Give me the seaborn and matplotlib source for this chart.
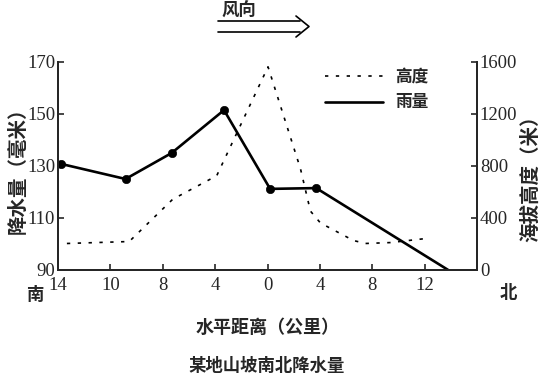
import matplotlib
matplotlib.use("Agg")
import matplotlib.pyplot as plt
from matplotlib.lines import Line2D
import seaborn as sns

# tick labels along the bottom (evenly spaced, as printed)
x_tick_labels = ['14', '10', '8', '4', '0', '4', '8', '12']

# rainfall (mm), position in tick-slot units
rain_pos = [0.06, 1.29, 2.17, 3.17, 4.05, 4.93, 7.45]
rain_mm = [130.8, 125.0, 135.0, 151.5, 121.2, 121.5, 90.0]

# elevation (m)
height_pos = [0.17, 1.36, 2.19, 3.03, 4.01, 4.63, 4.82, 5.01, 5.64, 5.87, 6.35, 7.02]
height_m = [204, 219, 544, 725, 1563, 778, 453, 362, 227, 204, 211, 242]

left_ticks = [90, 110, 130, 150, 170]
right_ticks = [0, 400, 800, 1200, 1600]

sns.set_style("ticks")
plt.rcParams['font.family'] = ['Liberation Serif', 'Noto Sans CJK SC']
plt.rcParams['axes.unicode_minus'] = False

W, H = 554, 378
fig = plt.figure(figsize=(W / 100, H / 100), dpi=100)
ax = fig.add_axes([58 / W, 108 / H, (477 - 58) / W, 208 / H])
ax2 = ax.twinx()

dash = (0, (2, 4.5))
sns.lineplot(x=rain_pos, y=rain_mm, ax=ax, sort=False, color='black', lw=1.9)
sns.scatterplot(x=rain_pos[:-1], y=rain_mm[:-1], ax=ax, color='black', s=36,
                edgecolor='black', zorder=5)
sns.lineplot(x=height_pos, y=height_m, ax=ax2, sort=False, color='black', lw=1.2,
             linestyle=dash)

ax.set_xlim(0, 8)
ax.set_ylim(90, 170)
ax2.set_ylim(0, 1600)
ax.set_xticks(range(len(x_tick_labels)))
ax.set_xticklabels(x_tick_labels)
ax.set_yticks(left_ticks)
ax2.set_yticks(right_ticks)

for a in (ax, ax2):
    a.spines['top'].set_visible(False)
    for s in a.spines.values():
        s.set_linewidth(1.4)
    a.tick_params(direction='in', length=4, width=1.2, labelsize=13.5, pad=2)
ax.tick_params(axis='x', pad=5)
ax.set_xlabel('')
ax.set_ylabel('')
ax2.set_ylabel('')

handles = [Line2D([], [], color='black', lw=1.2, linestyle=dash),
           Line2D([], [], color='black', lw=1.9)]
leg = ax.legend(handles, ['高度', '雨量'], loc='upper left',
                bbox_to_anchor=(325 / W, 1 - 68 / H), bbox_transform=fig.transFigure,
                frameon=False, handlelength=3.5, handletextpad=0.7,
                labelspacing=0.45, borderpad=0, borderaxespad=0,
                prop={'family': 'Noto Sans CJK SC', 'weight': 'bold', 'size': 12})

cjk = dict(family='Noto Sans CJK SC', weight='bold')
fig.text(18 / W, 1 - 166 / H, '降水量（毫米）', rotation=90, ha='center', va='center',
         fontsize=14, **cjk)
fig.text(531 / W, 1 - 174 / H, '海拔高度（米）', rotation=90, ha='center', va='center',
         fontsize=14, **cjk)
fig.text(268 / W, 1 - 327 / H, '水平距离（公里）', ha='center', va='center', fontsize=13, **cjk)
fig.text(267 / W, 1 - 366 / H, '某地山坡南北降水量', ha='center', va='center', fontsize=12.5, **cjk)
fig.text(35 / W, 1 - 295 / H, '南', ha='center', va='center', fontsize=12.5, **cjk)
fig.text(508 / W, 1 - 293 / H, '北', ha='center', va='center', fontsize=12.5, **cjk)
fig.text(239 / W, 1 - 11 / H, '风向', ha='center', va='center', fontsize=12.5, **cjk)

# hollow wind arrow at top
def px_line(xs, ys):
    fig.add_artist(Line2D([x / W for x in xs], [1 - y / H for y in ys],
                          color='black', lw=1.2, transform=fig.transFigure))

px_line([218, 300], [21, 21])
px_line([218, 300], [32, 32])
px_line([296, 309, 296], [16, 26.5, 37])

fig.savefig('out.png', dpi=100)
